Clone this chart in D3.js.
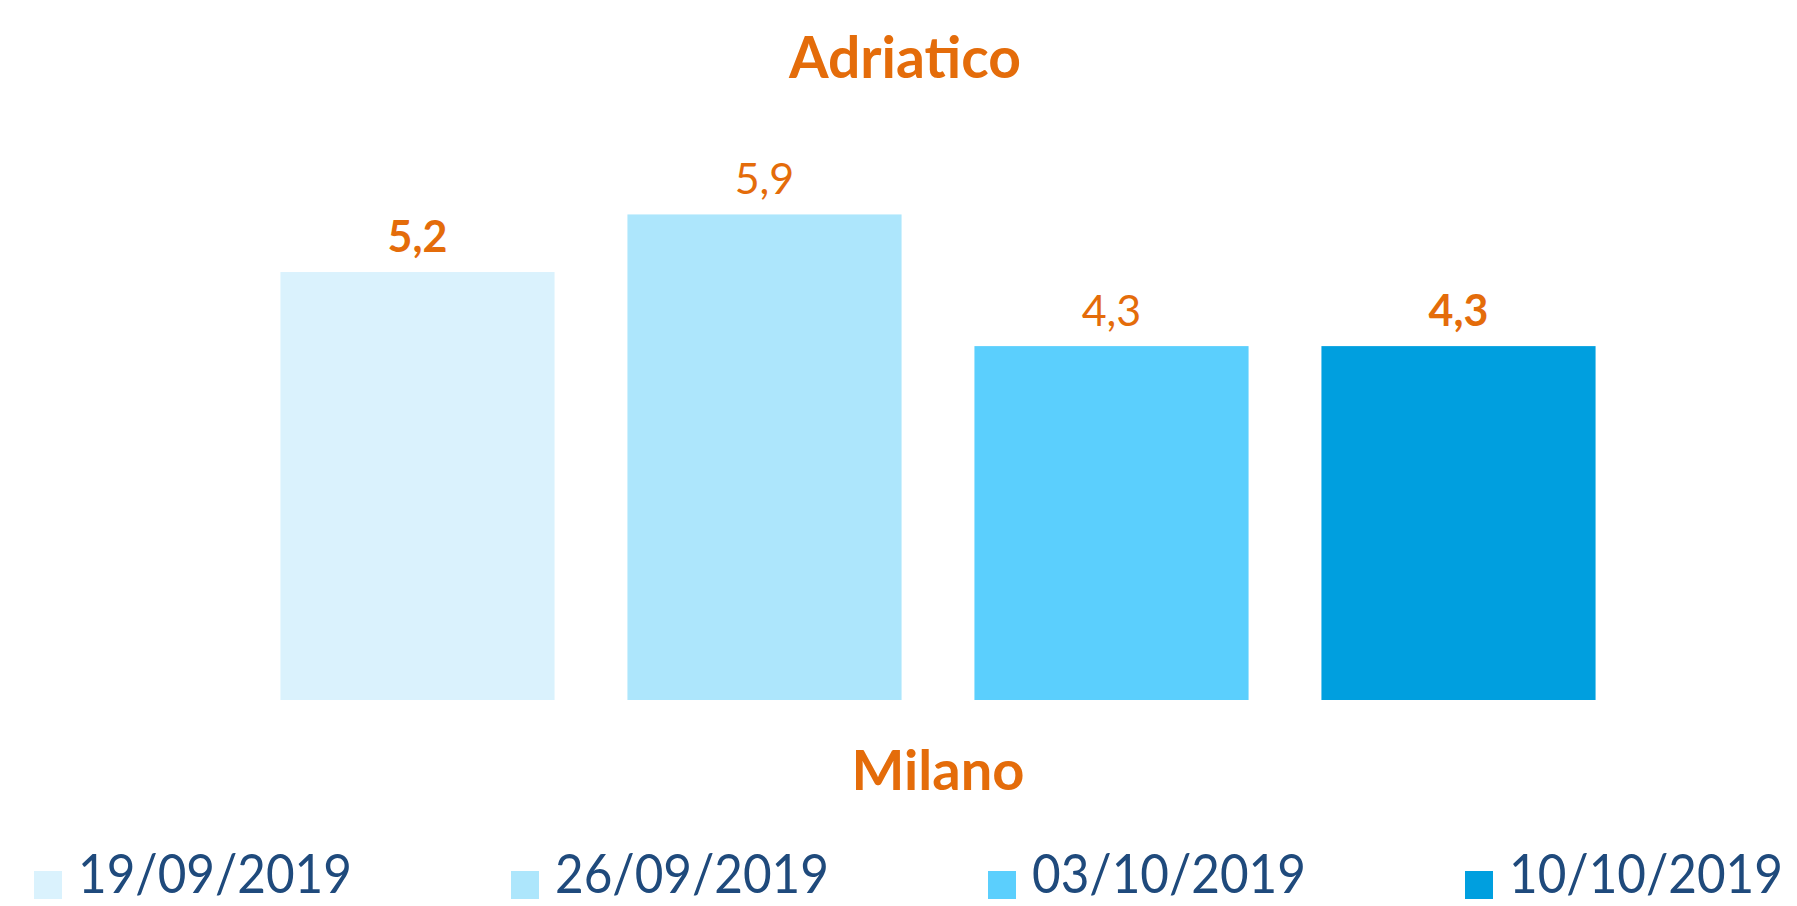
<!DOCTYPE html>
<html>
<head>
<meta charset="utf-8">
<script src="https://cdn.jsdelivr.net/npm/d3@7"></script>
<style>
  body { margin: 0; background: #fff; }
  svg { display: block; font-family: Lato, "Open Sans", sans-serif; }
</style>
</head>
<body>
<div id="chart"></div>
<script>
const w = 1797;
const h = 906;

// data
const title = 'Adriatico';
const category = 'Milano';
const dates = ['19/09/2019', '26/09/2019', '03/10/2019', '10/10/2019'];
const values = [5.2, 5.9, 4.3, 4.3];

// styling
const colors = ['#DAF2FD', '#ADE6FC', '#5BCFFD', '#009FDF'];
const labelBold = [true, false, false, true];
const orange = '#E46C0A';
const navy = '#1F4A7C';

const xLeft = 244;
const xRight = 1632;
const yBase = 700;
const legTextW = 274;

const svg = d3.select('#chart')
.append('svg')
.attr('width', w)
.attr('height', h);

//Scales
const x = d3.scaleBand()
.domain(dates)
.range([xLeft, xRight])
.paddingInner(0.21)
.paddingOuter(0.105);

const y = d3.scaleLinear()
.domain([0, 6])
.range([yBase, yBase - 6 * 82.3]);

//Title
svg.append('text')
.attr('x', 905)
.attr('y', 78)
.attr('text-anchor', 'middle')
.attr('fill', orange)
.style('font-size', '57px')
.style('font-weight', 'bold')
.text(title);

//Bars
svg.selectAll('.bar')
.data(values)
.enter()
.append('rect')
.attr('class', 'bar')
.attr('x', (d, i) => x(dates[i]))
.attr('y', d => y(d))
.attr('width', x.bandwidth())
.attr('height', d => y(0) - y(d))
.attr('fill', (d, i) => colors[i]);

//Value labels
svg.selectAll('.label')
.data(values)
.enter()
.append('text')
.attr('class', 'label')
.attr('x', (d, i) => x(dates[i]) + x.bandwidth() / 2)
.attr('y', d => y(d) - 20)
.attr('text-anchor', 'middle')
.attr('fill', orange)
.style('font-size', '43px')
.style('font-weight', (d, i) => labelBold[i] ? 'bold' : 'normal')
.text(d => d3.format('.1f')(d).replace('.', ','));

//Category label
svg.append('text')
.attr('x', (xLeft + xRight) / 2)
.attr('y', 790)
.attr('text-anchor', 'middle')
.attr('fill', orange)
.style('font-size', '56px')
.style('font-weight', 'bold')
.text(category);

//Legend
const legendItems = svg.append('g')
.attr('id', 'legend')
.selectAll('g')
.data(dates)
.enter()
.append('g')
.attr('transform', (d, i) => `translate(${34 + i * 477},0)`);

legendItems.append('rect')
.attr('x', 0)
.attr('y', 871)
.attr('width', 28)
.attr('height', 28)
.attr('fill', (d, i) => colors[i]);

// the legend font is condensed, so squeeze each label horizontally
legendItems.append('text')
.attr('fill', navy)
.style('font-size', '55px')
.text(d => d)
.attr('transform', function(){
    const sx = legTextW / this.getComputedTextLength();
    return `translate(44,893) scale(${sx},1)`;
});
</script>
</body>
</html>
